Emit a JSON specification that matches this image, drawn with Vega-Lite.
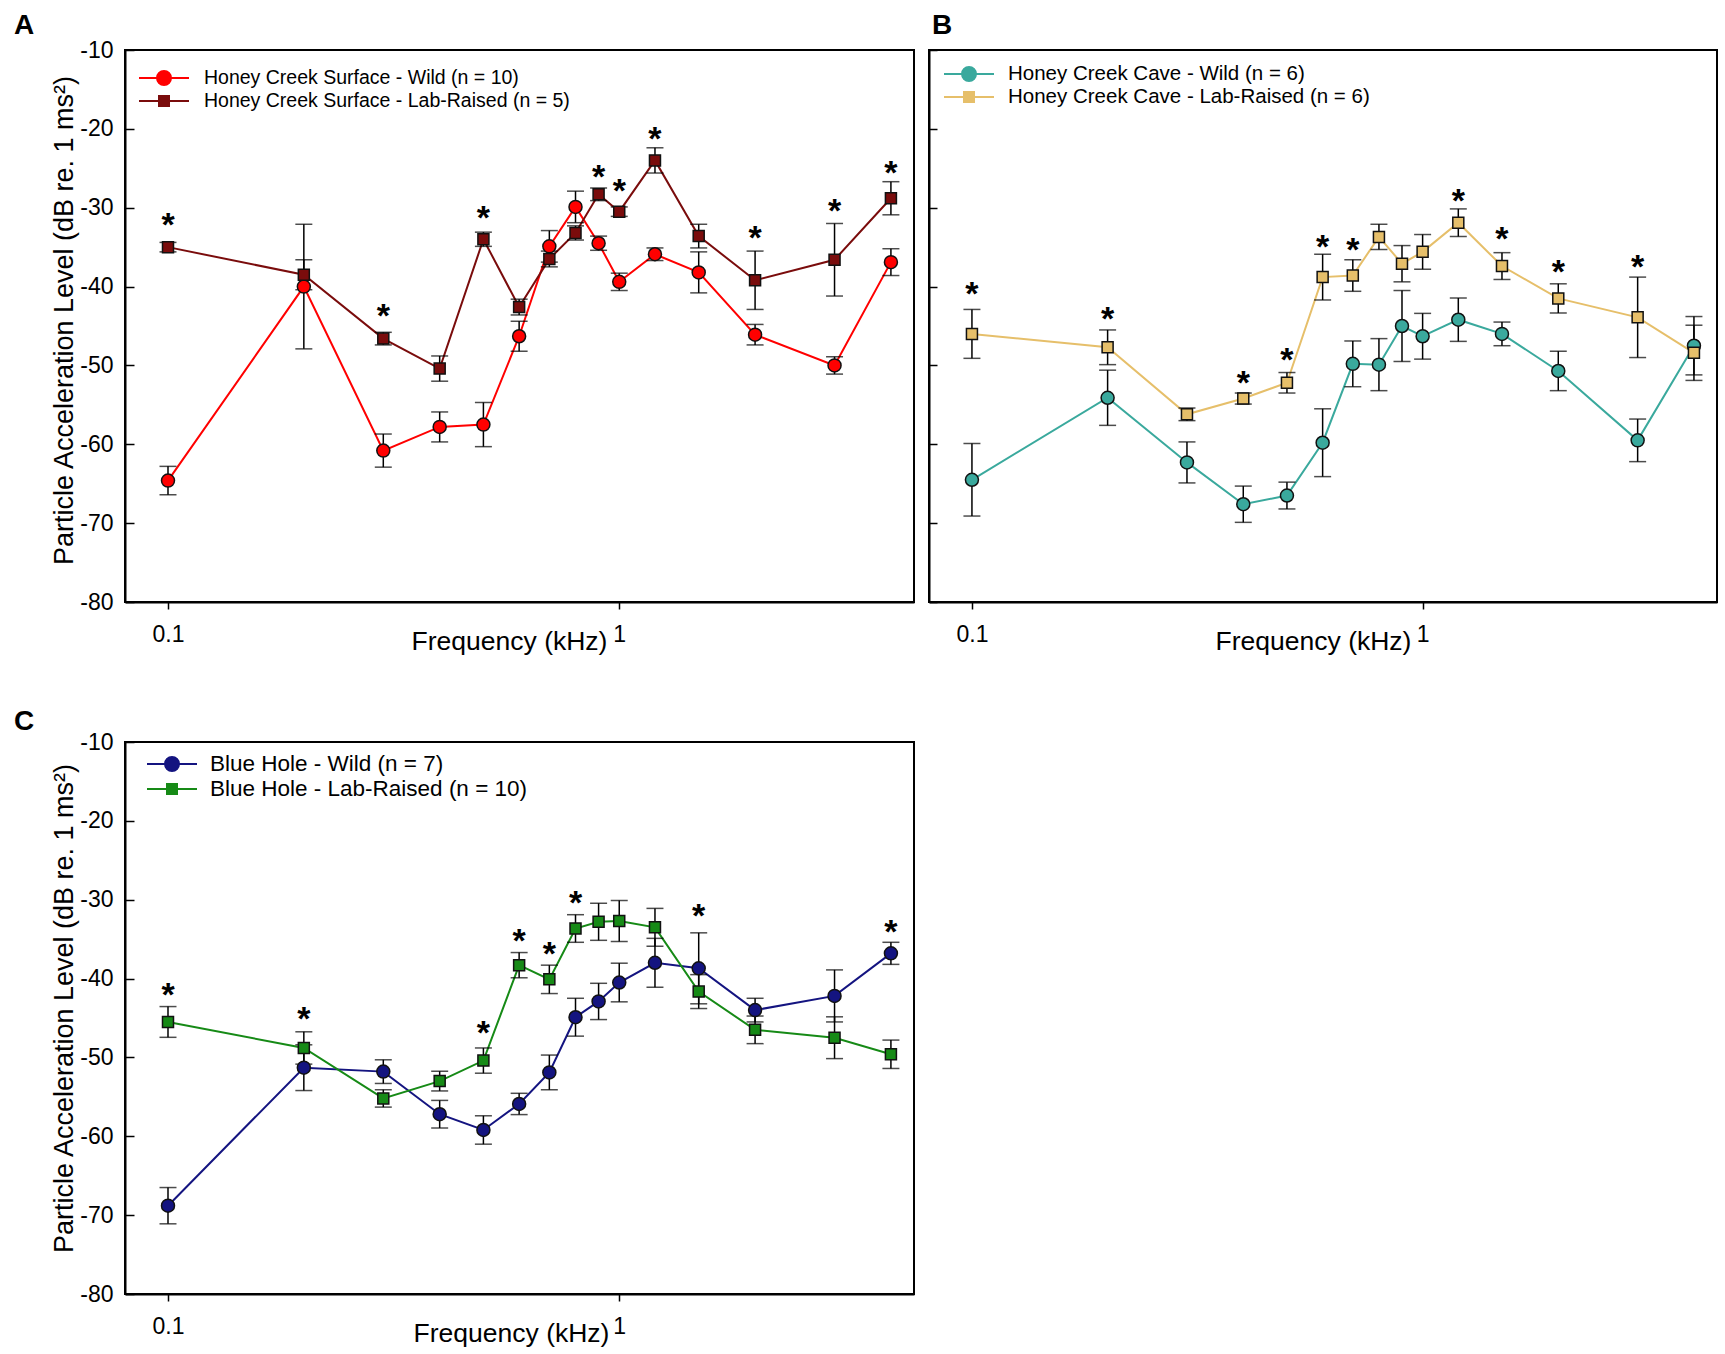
{
  "$schema": "https://vega.github.io/schema/vega-lite/v6.json",
  "padding": {"left": 13, "top": 11, "right": 0, "bottom": 0},
  "datasets": {
    "main": [
      {"panel": "A", "group": "Honey Creek Surface - Wild (n = 10)", "freq": 0.1, "level": -64.6, "err": 1.8},
      {"panel": "A", "group": "Honey Creek Surface - Wild (n = 10)", "freq": 0.2, "level": -40.0, "err": 7.9},
      {"panel": "A", "group": "Honey Creek Surface - Wild (n = 10)", "freq": 0.3, "level": -60.8, "err": 2.1},
      {"panel": "A", "group": "Honey Creek Surface - Wild (n = 10)", "freq": 0.4, "level": -57.8, "err": 1.9},
      {"panel": "A", "group": "Honey Creek Surface - Wild (n = 10)", "freq": 0.5, "level": -57.5, "err": 2.8},
      {"panel": "A", "group": "Honey Creek Surface - Wild (n = 10)", "freq": 0.6, "level": -46.3, "err": 1.9},
      {"panel": "A", "group": "Honey Creek Surface - Wild (n = 10)", "freq": 0.7, "level": -34.9, "err": 2.0},
      {"panel": "A", "group": "Honey Creek Surface - Wild (n = 10)", "freq": 0.8, "level": -29.9, "err": 2.0},
      {"panel": "A", "group": "Honey Creek Surface - Wild (n = 10)", "freq": 0.9, "level": -34.5, "err": 0.9},
      {"panel": "A", "group": "Honey Creek Surface - Wild (n = 10)", "freq": 1.0, "level": -39.4, "err": 1.1},
      {"panel": "A", "group": "Honey Creek Surface - Wild (n = 10)", "freq": 1.2, "level": -35.9, "err": 0.8},
      {"panel": "A", "group": "Honey Creek Surface - Wild (n = 10)", "freq": 1.5, "level": -38.2, "err": 2.6},
      {"panel": "A", "group": "Honey Creek Surface - Wild (n = 10)", "freq": 2.0, "level": -46.1, "err": 1.3},
      {"panel": "A", "group": "Honey Creek Surface - Wild (n = 10)", "freq": 3.0, "level": -50.0, "err": 1.1},
      {"panel": "A", "group": "Honey Creek Surface - Wild (n = 10)", "freq": 4.0, "level": -36.9, "err": 1.7},
      {"panel": "A", "group": "Honey Creek Surface - Lab-Raised (n = 5)", "freq": 0.1, "level": -35.0, "err": 0.6},
      {"panel": "A", "group": "Honey Creek Surface - Lab-Raised (n = 5)", "freq": 0.2, "level": -38.5, "err": 1.9},
      {"panel": "A", "group": "Honey Creek Surface - Lab-Raised (n = 5)", "freq": 0.3, "level": -46.6, "err": 0.8},
      {"panel": "A", "group": "Honey Creek Surface - Lab-Raised (n = 5)", "freq": 0.4, "level": -50.4, "err": 1.6},
      {"panel": "A", "group": "Honey Creek Surface - Lab-Raised (n = 5)", "freq": 0.5, "level": -34.0, "err": 0.9},
      {"panel": "A", "group": "Honey Creek Surface - Lab-Raised (n = 5)", "freq": 0.6, "level": -42.6, "err": 1.0},
      {"panel": "A", "group": "Honey Creek Surface - Lab-Raised (n = 5)", "freq": 0.7, "level": -36.5, "err": 1.0},
      {"panel": "A", "group": "Honey Creek Surface - Lab-Raised (n = 5)", "freq": 0.8, "level": -33.2, "err": 0.9},
      {"panel": "A", "group": "Honey Creek Surface - Lab-Raised (n = 5)", "freq": 0.9, "level": -28.3, "err": 0.8},
      {"panel": "A", "group": "Honey Creek Surface - Lab-Raised (n = 5)", "freq": 1.0, "level": -30.5, "err": 0.6},
      {"panel": "A", "group": "Honey Creek Surface - Lab-Raised (n = 5)", "freq": 1.2, "level": -24.0, "err": 1.6},
      {"panel": "A", "group": "Honey Creek Surface - Lab-Raised (n = 5)", "freq": 1.5, "level": -33.6, "err": 1.5},
      {"panel": "A", "group": "Honey Creek Surface - Lab-Raised (n = 5)", "freq": 2.0, "level": -39.2, "err": 3.7},
      {"panel": "A", "group": "Honey Creek Surface - Lab-Raised (n = 5)", "freq": 3.0, "level": -36.6, "err": 4.6},
      {"panel": "A", "group": "Honey Creek Surface - Lab-Raised (n = 5)", "freq": 4.0, "level": -28.8, "err": 2.1},
      {"panel": "B", "group": "Honey Creek Cave - Wild (n = 6)", "freq": 0.1, "level": -64.5, "err": 4.6},
      {"panel": "B", "group": "Honey Creek Cave - Wild (n = 6)", "freq": 0.2, "level": -54.1, "err": 3.5},
      {"panel": "B", "group": "Honey Creek Cave - Wild (n = 6)", "freq": 0.3, "level": -62.3, "err": 2.6},
      {"panel": "B", "group": "Honey Creek Cave - Wild (n = 6)", "freq": 0.4, "level": -67.6, "err": 2.3},
      {"panel": "B", "group": "Honey Creek Cave - Wild (n = 6)", "freq": 0.5, "level": -66.5, "err": 1.7},
      {"panel": "B", "group": "Honey Creek Cave - Wild (n = 6)", "freq": 0.6, "level": -59.8, "err": 4.3},
      {"panel": "B", "group": "Honey Creek Cave - Wild (n = 6)", "freq": 0.7, "level": -49.8, "err": 2.9},
      {"panel": "B", "group": "Honey Creek Cave - Wild (n = 6)", "freq": 0.8, "level": -49.9, "err": 3.3},
      {"panel": "B", "group": "Honey Creek Cave - Wild (n = 6)", "freq": 0.9, "level": -45.0, "err": 4.5},
      {"panel": "B", "group": "Honey Creek Cave - Wild (n = 6)", "freq": 1.0, "level": -46.3, "err": 2.9},
      {"panel": "B", "group": "Honey Creek Cave - Wild (n = 6)", "freq": 1.2, "level": -44.2, "err": 2.75},
      {"panel": "B", "group": "Honey Creek Cave - Wild (n = 6)", "freq": 1.5, "level": -46.0, "err": 1.5},
      {"panel": "B", "group": "Honey Creek Cave - Wild (n = 6)", "freq": 2.0, "level": -50.7, "err": 2.5},
      {"panel": "B", "group": "Honey Creek Cave - Wild (n = 6)", "freq": 3.0, "level": -59.5, "err": 2.7},
      {"panel": "B", "group": "Honey Creek Cave - Wild (n = 6)", "freq": 4.0, "level": -47.5, "err": 3.7},
      {"panel": "B", "group": "Honey Creek Cave - Lab-Raised (n = 6)", "freq": 0.1, "level": -46.0, "err": 3.1},
      {"panel": "B", "group": "Honey Creek Cave - Lab-Raised (n = 6)", "freq": 0.2, "level": -47.7, "err": 2.2},
      {"panel": "B", "group": "Honey Creek Cave - Lab-Raised (n = 6)", "freq": 0.3, "level": -56.2, "err": 0.8},
      {"panel": "B", "group": "Honey Creek Cave - Lab-Raised (n = 6)", "freq": 0.4, "level": -54.2, "err": 0.7},
      {"panel": "B", "group": "Honey Creek Cave - Lab-Raised (n = 6)", "freq": 0.5, "level": -52.2, "err": 1.3},
      {"panel": "B", "group": "Honey Creek Cave - Lab-Raised (n = 6)", "freq": 0.6, "level": -38.8, "err": 2.9},
      {"panel": "B", "group": "Honey Creek Cave - Lab-Raised (n = 6)", "freq": 0.7, "level": -38.6, "err": 2.0},
      {"panel": "B", "group": "Honey Creek Cave - Lab-Raised (n = 6)", "freq": 0.8, "level": -33.7, "err": 1.6},
      {"panel": "B", "group": "Honey Creek Cave - Lab-Raised (n = 6)", "freq": 0.9, "level": -37.1, "err": 2.3},
      {"panel": "B", "group": "Honey Creek Cave - Lab-Raised (n = 6)", "freq": 1.0, "level": -35.6, "err": 2.2},
      {"panel": "B", "group": "Honey Creek Cave - Lab-Raised (n = 6)", "freq": 1.2, "level": -31.9, "err": 1.75},
      {"panel": "B", "group": "Honey Creek Cave - Lab-Raised (n = 6)", "freq": 1.5, "level": -37.4, "err": 1.7},
      {"panel": "B", "group": "Honey Creek Cave - Lab-Raised (n = 6)", "freq": 2.0, "level": -41.5, "err": 1.85},
      {"panel": "B", "group": "Honey Creek Cave - Lab-Raised (n = 6)", "freq": 3.0, "level": -43.9, "err": 5.1},
      {"panel": "B", "group": "Honey Creek Cave - Lab-Raised (n = 6)", "freq": 4.0, "level": -48.4, "err": 3.5},
      {"panel": "C", "group": "Blue Hole - Wild (n = 7)", "freq": 0.1, "level": -68.8, "err": 2.3},
      {"panel": "C", "group": "Blue Hole - Wild (n = 7)", "freq": 0.2, "level": -51.3, "err": 2.9},
      {"panel": "C", "group": "Blue Hole - Wild (n = 7)", "freq": 0.3, "level": -51.8, "err": 1.5},
      {"panel": "C", "group": "Blue Hole - Wild (n = 7)", "freq": 0.4, "level": -57.2, "err": 1.75},
      {"panel": "C", "group": "Blue Hole - Wild (n = 7)", "freq": 0.5, "level": -59.2, "err": 1.8},
      {"panel": "C", "group": "Blue Hole - Wild (n = 7)", "freq": 0.6, "level": -55.9, "err": 1.35},
      {"panel": "C", "group": "Blue Hole - Wild (n = 7)", "freq": 0.7, "level": -51.9, "err": 2.2},
      {"panel": "C", "group": "Blue Hole - Wild (n = 7)", "freq": 0.8, "level": -44.9, "err": 2.4},
      {"panel": "C", "group": "Blue Hole - Wild (n = 7)", "freq": 0.9, "level": -42.9, "err": 2.3},
      {"panel": "C", "group": "Blue Hole - Wild (n = 7)", "freq": 1.0, "level": -40.5, "err": 2.45},
      {"panel": "C", "group": "Blue Hole - Wild (n = 7)", "freq": 1.2, "level": -38.0, "err": 3.1},
      {"panel": "C", "group": "Blue Hole - Wild (n = 7)", "freq": 1.5, "level": -38.7, "err": 4.5},
      {"panel": "C", "group": "Blue Hole - Wild (n = 7)", "freq": 2.0, "level": -44.0, "err": 1.5},
      {"panel": "C", "group": "Blue Hole - Wild (n = 7)", "freq": 3.0, "level": -42.2, "err": 3.3},
      {"panel": "C", "group": "Blue Hole - Wild (n = 7)", "freq": 4.0, "level": -36.8, "err": 1.4},
      {"panel": "C", "group": "Blue Hole - Lab-Raised (n = 10)", "freq": 0.1, "level": -45.5, "err": 1.95},
      {"panel": "C", "group": "Blue Hole - Lab-Raised (n = 10)", "freq": 0.2, "level": -48.8, "err": 2.05},
      {"panel": "C", "group": "Blue Hole - Lab-Raised (n = 10)", "freq": 0.3, "level": -55.2, "err": 1.1},
      {"panel": "C", "group": "Blue Hole - Lab-Raised (n = 10)", "freq": 0.4, "level": -53.0, "err": 1.25},
      {"panel": "C", "group": "Blue Hole - Lab-Raised (n = 10)", "freq": 0.5, "level": -50.4, "err": 1.6},
      {"panel": "C", "group": "Blue Hole - Lab-Raised (n = 10)", "freq": 0.6, "level": -38.3, "err": 1.6},
      {"panel": "C", "group": "Blue Hole - Lab-Raised (n = 10)", "freq": 0.7, "level": -40.1, "err": 1.8},
      {"panel": "C", "group": "Blue Hole - Lab-Raised (n = 10)", "freq": 0.8, "level": -33.65, "err": 1.75},
      {"panel": "C", "group": "Blue Hole - Lab-Raised (n = 10)", "freq": 0.9, "level": -32.8, "err": 2.35},
      {"panel": "C", "group": "Blue Hole - Lab-Raised (n = 10)", "freq": 1.0, "level": -32.7, "err": 2.6},
      {"panel": "C", "group": "Blue Hole - Lab-Raised (n = 10)", "freq": 1.2, "level": -33.5, "err": 2.4},
      {"panel": "C", "group": "Blue Hole - Lab-Raised (n = 10)", "freq": 1.5, "level": -41.65, "err": 2.15},
      {"panel": "C", "group": "Blue Hole - Lab-Raised (n = 10)", "freq": 2.0, "level": -46.5, "err": 1.75},
      {"panel": "C", "group": "Blue Hole - Lab-Raised (n = 10)", "freq": 3.0, "level": -47.5, "err": 2.65},
      {"panel": "C", "group": "Blue Hole - Lab-Raised (n = 10)", "freq": 4.0, "level": -49.6, "err": 1.8}
    ],
    "stars": [
      {"panel": "A", "freq": 0.1, "level": -31.9},
      {"panel": "A", "freq": 0.3, "level": -43.5},
      {"panel": "A", "freq": 0.5, "level": -31.1},
      {"panel": "A", "freq": 0.9, "level": -25.8},
      {"panel": "A", "freq": 1.0, "level": -27.6},
      {"panel": "A", "freq": 1.2, "level": -21.0},
      {"panel": "A", "freq": 2.0, "level": -33.6},
      {"panel": "A", "freq": 3.0, "level": -30.1},
      {"panel": "A", "freq": 4.0, "level": -25.3},
      {"panel": "B", "freq": 0.1, "level": -40.7},
      {"panel": "B", "freq": 0.2, "level": -43.8},
      {"panel": "B", "freq": 0.4, "level": -52.0},
      {"panel": "B", "freq": 0.5, "level": -49.1},
      {"panel": "B", "freq": 0.6, "level": -34.7},
      {"panel": "B", "freq": 0.7, "level": -35.1},
      {"panel": "B", "freq": 1.2, "level": -28.9},
      {"panel": "B", "freq": 1.5, "level": -33.7},
      {"panel": "B", "freq": 2.0, "level": -37.9},
      {"panel": "B", "freq": 3.0, "level": -37.3},
      {"panel": "C", "freq": 0.1, "level": -41.8},
      {"panel": "C", "freq": 0.2, "level": -44.9},
      {"panel": "C", "freq": 0.5, "level": -46.7},
      {"panel": "C", "freq": 0.6, "level": -35.0},
      {"panel": "C", "freq": 0.7, "level": -36.6},
      {"panel": "C", "freq": 0.8, "level": -30.2},
      {"panel": "C", "freq": 1.5, "level": -31.8},
      {"panel": "C", "freq": 4.0, "level": -33.8}
    ]
  },
  "spacing": 51,
  "resolve": {"scale": {"color": "independent"}, "legend": {"color": "independent"}},
  "vconcat": [
    {
      "spacing": 12,
      "resolve": {"scale": {"color": "independent"}, "legend": {"color": "independent"}},
      "hconcat": [
        {
          "width": 789, "height": 552,
          "title": {"text": "A", "anchor": "start", "frame": "group", "dx": -111, "offset": -23, "fontSize": 28, "fontWeight": "bold", "baseline": "alphabetic", "color": "black"},
          "encoding": {
            "x": {"field": "freq", "type": "quantitative", "scale": {"type": "log", "domain": [0.0803, 4.5], "nice": false},
              "axis": {"values": [0.1, 1], "format": "~g", "title": "Frequency (kHz)", "tickSize": 7, "labelPadding": 14, "titleX": 384, "titleY": 39, "titleBaseline": "middle"}},
            "y": {"field": "level", "type": "quantitative", "scale": {"domain": [-80, -10], "nice": false, "zero": false},
              "axis": {"values": [-80, -70, -60, -50, -40, -30, -20, -10], "labelExpr": "'-' + abs(datum.value)", "title": "Particle Acceleration Level (dB re. 1 ms²)", "titleFontSize": 27, "tickSize": -9, "labelPadding": 21, "titleX": -61, "titleY": 270, "titleBaseline": "middle", "titleAngle": -90}}
          },
          "layer": [
            {"data": {"name": "main"}, "transform": [{"filter": "datum.panel === 'A'"}],
             "mark": {"type": "line", "strokeWidth": 2},
             "encoding": {"color": {"field": "group", "type": "nominal",
               "scale": {"domain": ["Honey Creek Surface - Wild (n = 10)", "Honey Creek Surface - Lab-Raised (n = 5)"], "range": ["#ff0000", "#7a0c0c"]},
               "legend": {"title": null, "orient": "none", "legendX": 13, "legendY": 16.5, "padding": 0, "symbolSize": 2500, "clipHeight": 23, "rowPadding": 0, "labelFontSize": 19.5, "labelOffset": 14, "labelLimit": 1000, "labelColor": "black",
                 "encode": {"symbols": {"update": {
                   "shape": {"signal": "indexof(datum.value,'Wild')>=0 ? 'M-1,0H-0.28M0.28,0H1M-0.28,0A0.28,0.28 0 1,0 0.28,0A0.28,0.28 0 1,0 -0.28,0Z' : 'M-1,0H-0.2M0.2,0H1M-0.2,-0.2H0.2V0.2H-0.2Z'"},
                   "size": {"value": 2500},
                   "strokeWidth": {"value": 2},
                   "opacity": {"value": 1}}}}}}}},
            {"data": {"name": "main"}, "transform": [{"filter": "datum.panel === 'A'"}],
             "mark": {"type": "errorbar", "ticks": true, "size": 17, "thickness": 1.5, "color": "black"},
             "encoding": {"yError": {"field": "err"}}},
            {"data": {"name": "main"}, "transform": [{"filter": "datum.panel === 'A' && indexof(datum.group,'Wild') >= 0"}],
             "mark": {"type": "point", "shape": "circle", "size": 169, "filled": true, "opacity": 1, "stroke": "#111111", "strokeWidth": 1.5},
             "encoding": {"color": {"field": "group", "type": "nominal"}}},
            {"data": {"name": "main"}, "transform": [{"filter": "datum.panel === 'A' && indexof(datum.group,'Wild') < 0"}],
             "mark": {"type": "point", "shape": "square", "size": 121, "filled": true, "opacity": 1, "stroke": "#111111", "strokeWidth": 1.5},
             "encoding": {"color": {"field": "group", "type": "nominal"}}},
            {"data": {"name": "stars"}, "transform": [{"filter": "datum.panel === 'A'"}],
             "mark": {"type": "text", "text": "*", "fontSize": 34, "fontWeight": "bold", "baseline": "alphabetic", "dy": 13, "color": "black"}}
          ]
        },
        {
          "width": 788, "height": 552,
          "title": {"text": "B", "anchor": "start", "frame": "group", "dx": 3, "offset": -13, "fontSize": 28, "fontWeight": "bold", "baseline": "alphabetic", "color": "black"},
          "encoding": {
            "x": {"field": "freq", "type": "quantitative", "scale": {"type": "log", "domain": [0.0803, 4.5], "nice": false},
              "axis": {"values": [0.1, 1], "format": "~g", "title": "Frequency (kHz)", "tickSize": 7, "labelPadding": 14, "titleX": 384, "titleY": 39, "titleBaseline": "middle"}},
            "y": {"field": "level", "type": "quantitative", "scale": {"domain": [-80, -10], "nice": false, "zero": false},
              "axis": {"values": [-80, -70, -60, -50, -40, -30, -20, -10], "title": null, "labels": false, "tickSize": -8}}
          },
          "layer": [
            {"data": {"name": "main"}, "transform": [{"filter": "datum.panel === 'B'"}],
             "mark": {"type": "line", "strokeWidth": 2},
             "encoding": {"color": {"field": "group", "type": "nominal",
               "scale": {"domain": ["Honey Creek Cave - Wild (n = 6)", "Honey Creek Cave - Lab-Raised (n = 6)"], "range": ["#3aa99d", "#e6bf6a"]},
               "legend": {"title": null, "orient": "none", "legendX": 14, "legendY": 12.5, "padding": 0, "symbolSize": 2500, "clipHeight": 23, "rowPadding": 0, "labelFontSize": 20.5, "labelOffset": 13, "labelLimit": 1000, "labelColor": "black",
                 "encode": {"symbols": {"update": {
                   "shape": {"signal": "indexof(datum.value,'Wild')>=0 ? 'M-1,0H-0.28M0.28,0H1M-0.28,0A0.28,0.28 0 1,0 0.28,0A0.28,0.28 0 1,0 -0.28,0Z' : 'M-1,0H-0.2M0.2,0H1M-0.2,-0.2H0.2V0.2H-0.2Z'"},
                   "size": {"value": 2500},
                   "strokeWidth": {"value": 2},
                   "opacity": {"value": 1}}}}}}}},
            {"data": {"name": "main"}, "transform": [{"filter": "datum.panel === 'B'"}],
             "mark": {"type": "errorbar", "ticks": true, "size": 17, "thickness": 1.5, "color": "black"},
             "encoding": {"yError": {"field": "err"}}},
            {"data": {"name": "main"}, "transform": [{"filter": "datum.panel === 'B' && indexof(datum.group,'Wild') >= 0"}],
             "mark": {"type": "point", "shape": "circle", "size": 169, "filled": true, "opacity": 1, "stroke": "#111111", "strokeWidth": 1.5},
             "encoding": {"color": {"field": "group", "type": "nominal"}}},
            {"data": {"name": "main"}, "transform": [{"filter": "datum.panel === 'B' && indexof(datum.group,'Wild') < 0"}],
             "mark": {"type": "point", "shape": "square", "size": 121, "filled": true, "opacity": 1, "stroke": "#111111", "strokeWidth": 1.5},
             "encoding": {"color": {"field": "group", "type": "nominal"}}},
            {"data": {"name": "stars"}, "transform": [{"filter": "datum.panel === 'B'"}],
             "mark": {"type": "text", "text": "*", "fontSize": 34, "fontWeight": "bold", "baseline": "alphabetic", "dy": 13, "color": "black"}}
          ]
        }
      ]
    },
    {
      "width": 789, "height": 552,
      "title": {"text": "C", "anchor": "start", "frame": "group", "dx": -111, "offset": -27, "fontSize": 28, "fontWeight": "bold", "baseline": "alphabetic", "color": "black"},
      "encoding": {
        "x": {"field": "freq", "type": "quantitative", "scale": {"type": "log", "domain": [0.0803, 4.5], "nice": false},
          "axis": {"values": [0.1, 1], "format": "~g", "title": "Frequency (kHz)", "tickSize": 7, "labelPadding": 14, "titleX": 386, "titleY": 39, "titleBaseline": "middle"}},
        "y": {"field": "level", "type": "quantitative", "scale": {"domain": [-80, -10], "nice": false, "zero": false},
          "axis": {"values": [-80, -70, -60, -50, -40, -30, -20, -10], "labelExpr": "'-' + abs(datum.value)", "title": "Particle Acceleration Level (dB re. 1 ms²)", "titleFontSize": 27, "tickSize": -9, "labelPadding": 21, "titleX": -61, "titleY": 266, "titleBaseline": "middle", "titleAngle": -90}}
      },
      "layer": [
        {"data": {"name": "main"}, "transform": [{"filter": "datum.panel === 'C'"}],
         "mark": {"type": "line", "strokeWidth": 2},
         "encoding": {"color": {"field": "group", "type": "nominal",
           "scale": {"domain": ["Blue Hole - Wild (n = 7)", "Blue Hole - Lab-Raised (n = 10)"], "range": ["#141480", "#168a16"]},
           "legend": {"title": null, "orient": "none", "legendX": 21, "legendY": 9.5, "padding": 0, "symbolSize": 2500, "clipHeight": 25, "rowPadding": 0, "labelFontSize": 22.5, "labelOffset": 12, "labelLimit": 1000, "labelColor": "black",
             "encode": {"symbols": {"update": {
               "shape": {"signal": "indexof(datum.value,'Wild')>=0 ? 'M-1,0H-0.28M0.28,0H1M-0.28,0A0.28,0.28 0 1,0 0.28,0A0.28,0.28 0 1,0 -0.28,0Z' : 'M-1,0H-0.2M0.2,0H1M-0.2,-0.2H0.2V0.2H-0.2Z'"},
               "size": {"value": 2500},
               "strokeWidth": {"value": 2},
               "opacity": {"value": 1}}}}}}}},
        {"data": {"name": "main"}, "transform": [{"filter": "datum.panel === 'C'"}],
         "mark": {"type": "errorbar", "ticks": true, "size": 17, "thickness": 1.5, "color": "black"},
         "encoding": {"yError": {"field": "err"}}},
        {"data": {"name": "main"}, "transform": [{"filter": "datum.panel === 'C' && indexof(datum.group,'Wild') >= 0"}],
         "mark": {"type": "point", "shape": "circle", "size": 169, "filled": true, "opacity": 1, "stroke": "#111111", "strokeWidth": 1.5},
         "encoding": {"color": {"field": "group", "type": "nominal"}}},
        {"data": {"name": "main"}, "transform": [{"filter": "datum.panel === 'C' && indexof(datum.group,'Wild') < 0"}],
         "mark": {"type": "point", "shape": "square", "size": 121, "filled": true, "opacity": 1, "stroke": "#111111", "strokeWidth": 1.5},
         "encoding": {"color": {"field": "group", "type": "nominal"}}},
        {"data": {"name": "stars"}, "transform": [{"filter": "datum.panel === 'C'"}],
         "mark": {"type": "text", "text": "*", "fontSize": 34, "fontWeight": "bold", "baseline": "alphabetic", "dy": 13, "color": "black"}}
      ]
    }
  ],
  "config": {
    "font": "Liberation Sans",
    "view": {"stroke": "black", "strokeWidth": 2},
    "axis": {"grid": false, "domainColor": "black", "domainWidth": 2, "tickColor": "black", "tickWidth": 1.5, "labelColor": "black", "titleColor": "black", "labelFontSize": 23, "titleFontSize": 26.5, "titleFontWeight": "normal", "labelFont": "Liberation Sans", "titleFont": "Liberation Sans"},
    "legend": {"labelFont": "Liberation Sans"}
  }
}
